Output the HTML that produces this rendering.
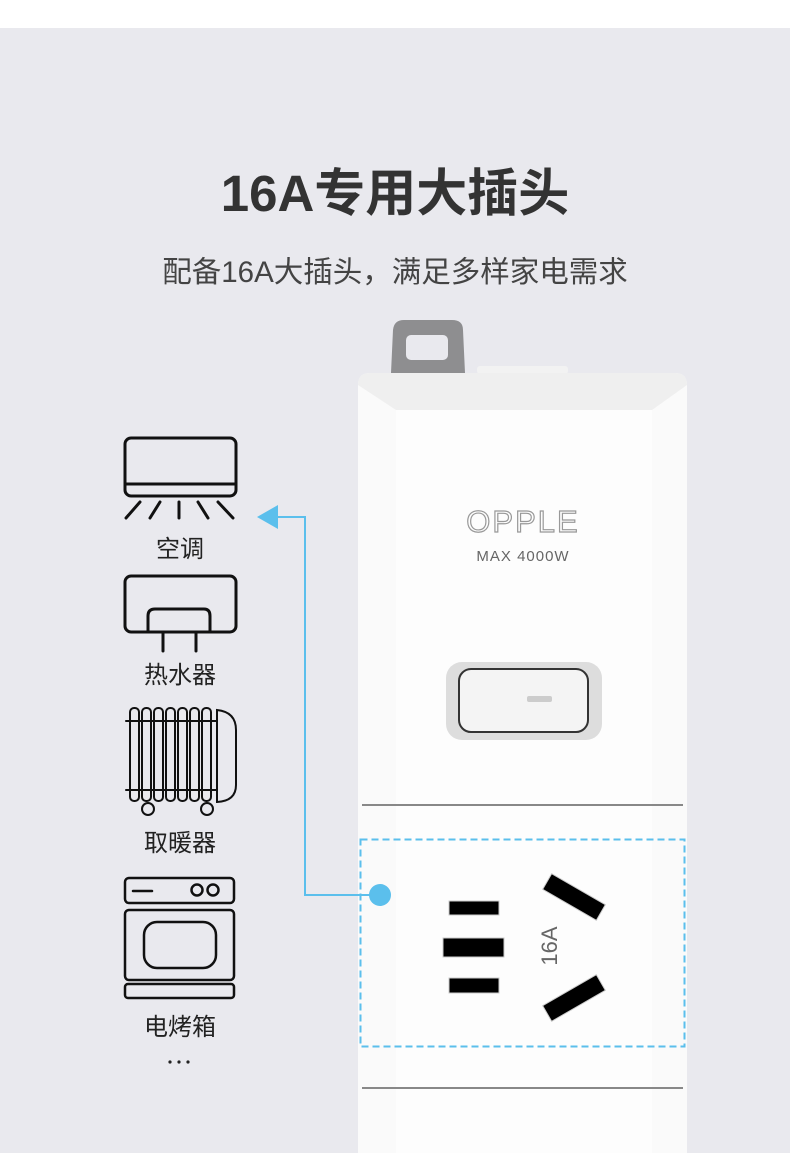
<!DOCTYPE html>
<html><head><meta charset="utf-8"><style>
body{margin:0;width:790px;height:1153px;background:#e9e9ee;position:relative;overflow:hidden;font-family:"Liberation Sans","Noto Sans CJK SC",sans-serif}
.t{position:absolute;left:0;width:790px;text-align:center}
.l{position:absolute;width:120px;left:120px;text-align:center;font-size:24px;color:#222}
</style></head><body>
<div style="position:absolute;left:0;top:0;width:790px;height:28px;background:#fff"></div>
<div class="t" style="top:152px;font-size:51px;font-weight:bold;color:#333">16A专用大插头</div>
<div class="t" style="top:249px;font-size:29.5px;color:#444">配备16A大插头，满足多样家电需求</div>
<svg width="790" height="1153" style="position:absolute;left:0;top:0">
<path d="M391 373 L393 330 Q394 320 404 320 L452 320 Q463 320 463 330 L465 373 Z" fill="#8e8e90"/>
<rect x="406" y="335" width="42" height="25" rx="5" fill="#e9e9ee"/>
<rect x="477" y="366" width="91" height="8" rx="3" fill="#f2f2f2"/>
<path d="M358 385 Q358 373 370 373 L675 373 Q687 373 687 385 L687 1153 L358 1153 Z" fill="#fafafa"/>
<path d="M358 385 Q358 373 370 373 L675 373 Q687 373 687 385 L652 410 L396 410 Z" fill="#efefef"/>
<rect x="396" y="410" width="256" height="743" fill="#fdfdfd"/>
<line x1="362" y1="805" x2="683" y2="805" stroke="#888" stroke-width="2"/>
<line x1="362" y1="1088" x2="683" y2="1088" stroke="#888" stroke-width="2"/>
<rect x="446" y="662" width="156" height="78" rx="16" fill="#ddd"/>
<rect x="459" y="669" width="129" height="63" rx="12" fill="#f4f4f4" stroke="#333" stroke-width="2"/>
<rect x="527" y="696" width="25" height="6" rx="2" fill="#ccc"/>
<text x="523" y="532" text-anchor="middle" font-size="31" fill="none" stroke="#999" stroke-width="1.2" font-family="Liberation Sans" letter-spacing="2">OPPLE</text>
<text x="523" y="561" text-anchor="middle" font-size="15" fill="#666" font-family="Liberation Sans" letter-spacing="1">MAX 4000W</text>
<rect x="360.5" y="839.5" width="324" height="207" fill="none" stroke="#5bbfec" stroke-width="2" stroke-dasharray="7,4"/>
<rect x="449" y="901" width="50" height="14" fill="#000" stroke="#ccc"/>
<rect x="443" y="938" width="61" height="19" fill="#000" stroke="#ccc"/>
<rect x="449" y="978" width="50" height="15" fill="#000" stroke="#ccc"/>
<rect x="543" y="888" width="62" height="18" fill="#000" stroke="#ccc" transform="rotate(30 574 897)"/>
<rect x="543" y="989" width="62" height="18" fill="#000" stroke="#ccc" transform="rotate(-30 574 998)"/>
<text x="557" y="946" text-anchor="middle" font-size="22" fill="#666" transform="rotate(-90 557 946)" font-family="Liberation Sans">16A</text>
<polyline points="380,895 305,895 305,517 275,517" fill="none" stroke="#5bbfec" stroke-width="2"/>
<polygon points="257,517 278,505 278,529" fill="#5bbfec"/>
<circle cx="380" cy="895" r="11" fill="#5bbfec"/>
<g fill="none" stroke="#111" stroke-width="3" stroke-linecap="round">
<rect x="125" y="438" width="111" height="58" rx="6"/><line x1="125" y1="484" x2="236" y2="484"/>
<line x1="140" y1="502" x2="126" y2="518"/><line x1="160" y1="502" x2="150" y2="518"/><line x1="179" y1="502" x2="179" y2="518"/><line x1="198" y1="502" x2="208" y2="518"/><line x1="218" y1="502" x2="233" y2="518"/>
<rect x="125" y="576" width="111" height="56" rx="6"/>
<path d="M148 632 V616 Q148 609 155 609 H204 Q210 609 210 616 V632"/>
<line x1="163" y1="632" x2="163" y2="651"/><line x1="196" y1="632" x2="196" y2="651"/>
<g stroke-width="2">
<rect x="130" y="708" width="9" height="93" rx="4"/><rect x="142" y="708" width="9" height="93" rx="4"/><rect x="154" y="708" width="9" height="93" rx="4"/><rect x="166" y="708" width="9" height="93" rx="4"/><rect x="178" y="708" width="9" height="93" rx="4"/><rect x="190" y="708" width="9" height="93" rx="4"/><rect x="202" y="708" width="9" height="93" rx="4"/>
<path d="M217 710 Q236 712 236 730 V785 Q236 801 217 802 Z"/>
<line x1="126" y1="721" x2="217" y2="721"/><line x1="126" y1="790" x2="217" y2="790"/>
<circle cx="148" cy="809" r="6"/><circle cx="207" cy="809" r="6"/>
</g>
<g stroke-width="2.5">
<rect x="125" y="878" width="109" height="25" rx="4"/>
<line x1="133" y1="891" x2="152" y2="891"/><circle cx="197" cy="890" r="5.5"/><circle cx="213" cy="890" r="5.5"/>
<rect x="125" y="910" width="109" height="70" rx="4"/>
<rect x="144" y="922" width="72" height="46" rx="13"/>
<rect x="125" y="984" width="109" height="14" rx="3"/>
</g>
</g>
<g fill="#222"><circle cx="170" cy="1062" r="1.6"/><circle cx="179" cy="1062" r="1.6"/><circle cx="188" cy="1062" r="1.6"/></g>
</svg>
<div class="l" style="top:529px">空调</div>
<div class="l" style="top:655px">热水器</div>
<div class="l" style="top:823px">取暖器</div>
<div class="l" style="top:1007px">电烤箱</div>
</body></html>
